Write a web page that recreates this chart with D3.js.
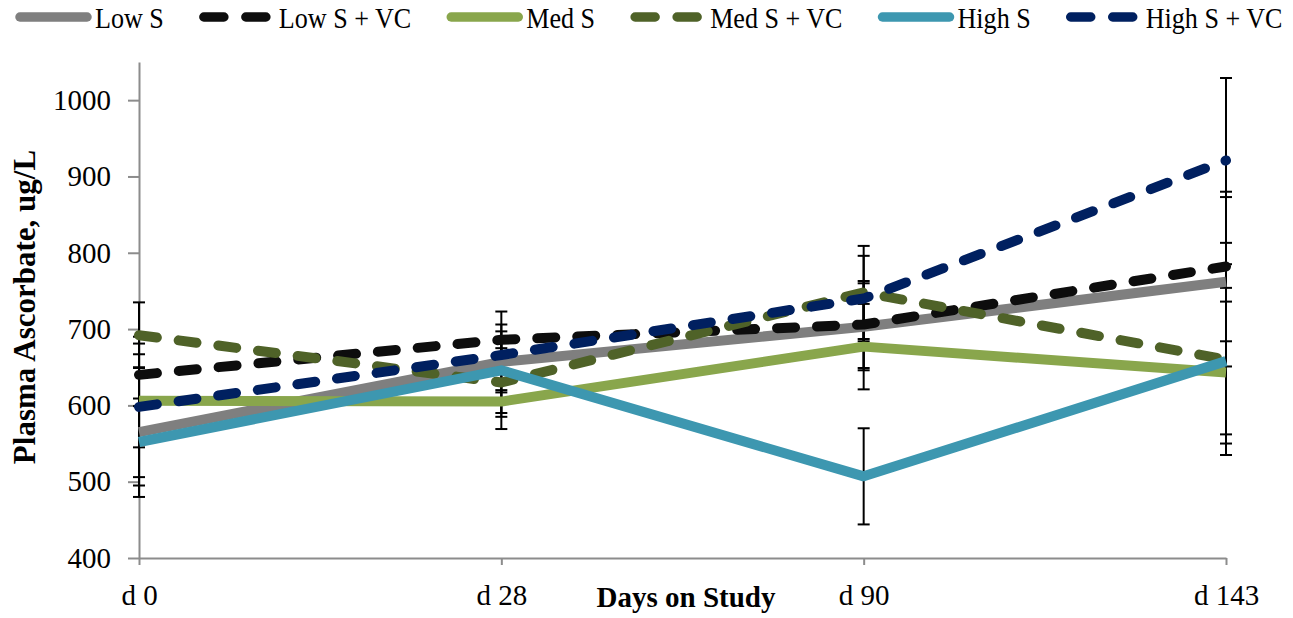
<!DOCTYPE html>
<html>
<head>
<meta charset="utf-8">
<script src="https://cdn.jsdelivr.net/npm/d3@7"></script>
<style>
  body { margin: 0; background: #fff; }
  svg text { font-family: "Times New Roman", "Liberation Serif", serif; fill: #000; }
</style>
</head>
<body>
<div id="chart"></div>
<script>
// data
var days = ["d 0", "d 28", "d 90", "d 143"];
var seriesNames = ["Low S", "Low S + VC", "Med S", "Med S + VC", "High S", "High S + VC"];
var lowS      = [565, 657, 703, 762];
var lowSVC    = [640, 686, 706, 782];
var medS      = [606, 605, 677, 643];
var medSVC    = [692, 630, 748, 660];
var highS     = [552, 646, 507, 658];
var highSVC   = [598, 666, 740, 921];
// error bar half-lengths (SD)
var lowSErr    = [85, 40, 57, 111];
var lowSVCErr  = [41, 20, 57, 98];
var medSErr    = [61, 15, 56, 93];
var medSVCErr  = [43, 45, 61, 125];
var highSErr   = [57, 77, 63, 96];
var highSVCErr = [92, 20, 56, 108];
var yTicks = [400, 500, 600, 700, 800, 900, 1000];

var colors = ["#7f7f7f", "#0d0d0d", "#89a64c", "#4f6228", "#3d97b0", "#002060"];
var dashed = [false, true, false, true, false, true];

function drawChart() {
  var series = [lowS, lowSVC, medS, medSVC, highS, highSVC].map(function(vals, i) {
    var errs = [lowSErr, lowSVCErr, medSErr, medSVCErr, highSErr, highSVCErr][i];
    return {
      name: seriesNames[i],
      color: colors[i],
      dashed: dashed[i],
      values: vals.map(function(v, j) { return {day: days[j], value: v, err: errs[j]}; })
    };
  });

  var width = 1293, height = 618;
  var plotLeft = 139, plotRight = 1226, plotTop = 62, plotBottom = 558;

  var svg = d3.select("#chart").append("svg")
    .attr("width", width)
    .attr("height", height);

  /* Scales */
  var xScale = d3.scalePoint().domain(days).range([plotLeft, plotRight]);
  var yScale = d3.scaleLinear().domain([400, 1050]).range([plotBottom, plotTop]);

  /* Axes */
  var axisColor = "#8c8c8c";
  var yAxis = d3.axisLeft(yScale).tickValues(yTicks).tickFormat(d3.format("d"))
    .tickSize(11).tickSizeOuter(0).tickPadding(17);
  var xAxis = d3.axisBottom(xScale).tickSize(7).tickSizeOuter(0).tickPadding(19);

  var gy = svg.append("g")
    .attr("transform", `translate(${plotLeft},0)`)
    .call(yAxis);
  gy.select(".domain").attr("stroke", axisColor).attr("stroke-width", 2);
  gy.selectAll(".tick line").attr("stroke", axisColor).attr("stroke-width", 2);
  gy.selectAll(".tick text")
    .style("font-family", '"Times New Roman", "Liberation Serif", serif')
    .style("font-size", "29px")
    .attr("fill", "#000");

  var gx = svg.append("g")
    .attr("transform", `translate(0,${plotBottom})`)
    .call(xAxis);
  gx.select(".domain").attr("stroke", axisColor).attr("stroke-width", 2);
  gx.selectAll(".tick line").attr("stroke", axisColor).attr("stroke-width", 2);
  gx.selectAll(".tick text")
    .style("font-family", '"Times New Roman", "Liberation Serif", serif')
    .style("font-size", "29px")
    .attr("fill", "#000");

  /* Axis titles */
  svg.append("text")
    .attr("x", 686)
    .attr("y", 607)
    .attr("text-anchor", "middle")
    .style("font-size", "29px")
    .style("font-weight", "bold")
    .text("Days on Study");

  svg.append("text")
    .attr("transform", "translate(35,307) rotate(-90)")
    .attr("text-anchor", "middle")
    .style("font-size", "31px")
    .style("font-weight", "bold")
    .text("Plasma Ascorbate, ug/L");

  /* Error bars */
  var capW = 6;
  var bars = svg.append("g").attr("class", "errorbars");
  series.forEach(function(s) {
    s.values.forEach(function(d) {
      var x = xScale(d.day);
      var y0 = yScale(d.value - d.err), y1 = yScale(d.value + d.err);
      bars.append("line").attr("x1", x).attr("x2", x).attr("y1", y0).attr("y2", y1)
        .attr("stroke", "#000").attr("stroke-width", 2);
      [y0, y1].forEach(function(yy) {
        bars.append("line").attr("x1", x - capW).attr("x2", x + capW).attr("y1", yy).attr("y2", yy)
          .attr("stroke", "#000").attr("stroke-width", 2);
      });
    });
  });

  /* Lines */
  var line = d3.line()
    .x(d => xScale(d.day))
    .y(d => yScale(d.value));

  svg.append("g").attr("class", "lines")
    .selectAll("path")
    .data(series).enter()
    .append("path")
    .attr("d", d => line(d.values))
    .attr("fill", "none")
    .attr("stroke", d => d.color)
    .attr("stroke-width", 10)
    .attr("stroke-linejoin", "round")
    .attr("stroke-linecap", d => d.dashed ? "round" : "butt")
    .attr("stroke-dasharray", d => d.dashed ? "18 22" : null);

  /* Legend (text is a bit condensed in the original) */
  var squeeze = 0.9;
  var legend = svg.append("g").attr("class", "legend");
  var cur = 15;
  series.forEach(function(s) {
    var g = legend.append("g").attr("transform", `translate(${cur},0)`);
    g.append("line")
      .attr("x1", 5).attr("x2", 72).attr("y1", 17).attr("y2", 17)
      .attr("stroke", s.color)
      .attr("stroke-width", 9.5)
      .attr("stroke-linecap", "round")
      .attr("stroke-dasharray", s.dashed ? "20 22" : null);
    var t = g.append("text")
      .attr("transform", `translate(80,27.5) scale(${squeeze},1)`)
      .style("font-size", "29px")
      .text(s.name);
    cur += 80 + t.node().getComputedTextLength() * squeeze + 35;
  });
}
drawChart();
</script>
</body>
</html>
